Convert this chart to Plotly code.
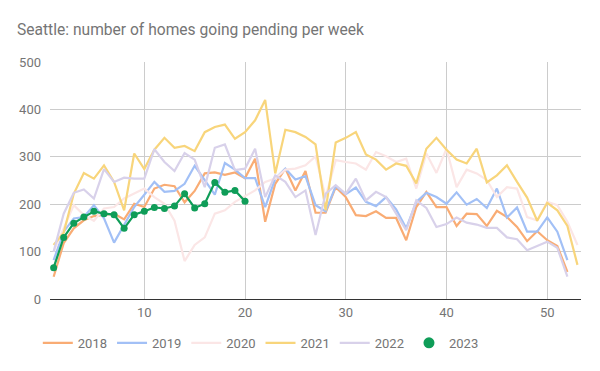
import plotly.graph_objects as go

weeks_52 = list(range(1, 53))
weeks_53 = list(range(1, 54))
weeks_2023 = list(range(1, 21))

v2018 = [47, 118, 149, 166, 175, 177, 180, 168, 201, 194, 233, 241, 238, 204, 228, 265, 267, 262, 267, 255,
         296, 163, 243, 275, 229, 270, 182, 182, 236, 215, 177, 175, 185, 171, 171, 124, 194, 226, 194, 194,
         154, 180, 179, 154, 186, 173, 152, 122, 143, 124, 112, 57]
v2019 = [82, 142, 170, 173, 198, 170, 119, 156, 194, 220, 247, 226, 228, 243, 281, 251, 220, 287, 273, 255,
         255, 194, 254, 275, 252, 259, 198, 185, 238, 221, 235, 205, 196, 215, 189, 149, 205, 224, 215, 201,
         225, 199, 211, 192, 233, 172, 193, 142, 142, 172, 142, 82]
v2020 = [100, 150, 198, 177, 165, 191, 194, 212, 222, 233, 215, 201, 165, 80, 114, 130, 180, 187, 205, 217,
         229, 247, 254, 273, 275, 282, 301, 215, 293, 289, 286, 273, 310, 301, 289, 296, 233, 307, 266, 317,
         236, 273, 265, 251, 215, 236, 233, 173, 166, 205, 198, 163, 114]
v2021 = [114, 140, 222, 266, 254, 282, 247, 187, 307, 274, 315, 340, 319, 323, 312, 352, 363, 368, 338, 352,
         377, 420, 265, 357, 352, 342, 326, 187, 330, 340, 352, 305, 294, 273, 286, 281, 244, 317, 340, 315,
         294, 286, 317, 246, 261, 282, 247, 214, 165, 203, 187, 154, 72]
v2022 = [100, 180, 224, 231, 212, 274, 247, 256, 254, 254, 316, 289, 270, 308, 294, 236, 319, 326, 272, 275,
         317, 215, 261, 247, 215, 229, 135, 222, 240, 222, 254, 208, 226, 215, 180, 145, 208, 192, 152, 158,
         172, 161, 157, 150, 150, 130, 126, 103, 112, 121, 108, 47]
v2023 = [66, 130, 160, 173, 185, 180, 178, 149, 178, 185, 193, 191, 196, 222, 192, 201, 246, 225, 229, 206]

series = [
    ("2018", weeks_52, v2018, "#F9AC74"),
    ("2019", weeks_52, v2019, "#A2C0F6"),
    ("2020", weeks_53, v2020, "#FBE6E6"),
    ("2021", weeks_53, v2021, "#F8D57B"),
    ("2022", weeks_52, v2022, "#D8D1EA"),
]
green = "#0F9D58"

fig = go.Figure()
for name, xs, ys, col in series:
    fig.add_trace(go.Scatter(x=xs, y=ys, name=name, mode="lines",
                             line=dict(color=col, width=2.2)))
fig.add_trace(go.Scatter(x=weeks_2023, y=v2023, name="2023", mode="lines+markers",
                         line=dict(color=green, width=2.2),
                         marker=dict(color=green, size=7),
                         showlegend=False, legendgroup="2023"))
# legend entry for 2023 shown as a dot only
fig.add_trace(go.Scatter(x=[None], y=[None], name="2023", mode="markers",
                         marker=dict(color=green, size=11),
                         legendgroup="2023", hoverinfo="skip"))

fig.update_layout(
    width=600, height=371,
    margin=dict(l=50, r=19, t=62, b=72),
    paper_bgcolor="white", plot_bgcolor="white",
    font=dict(family="Roboto", size=13, color="#757575"),
    title=dict(text="Seattle: number of homes going pending per week",
               x=17 / 600, xanchor="left", y=1 - 30 / 371, yanchor="middle",
               font=dict(family="Roboto", size=15.6, color="#757575")),
    legend=dict(orientation="h", x=0.397, xanchor="center", y=-0.185, yanchor="middle",
                font=dict(size=13, color="#757575")),
    showlegend=True,
)
fig.update_xaxes(range=[0.64, 53.35], tickvals=[10, 20, 30, 40, 50],
                 showgrid=True, gridcolor="#cccccc", gridwidth=1,
                 zeroline=False, showline=False, ticks="", ticklabelstandoff=4)
fig.update_yaxes(range=[0, 500], tickvals=[0, 100, 200, 300, 400, 500],
                 showgrid=True, gridcolor="#cccccc", gridwidth=1,
                 zeroline=True, zerolinecolor="#333333", zerolinewidth=1.2,
                 showline=False, ticks="", ticklabelstandoff=8)

fig.write_html("out.html", config={"displayModeBar": False},
               post_script="document.body.style.margin='0';")
